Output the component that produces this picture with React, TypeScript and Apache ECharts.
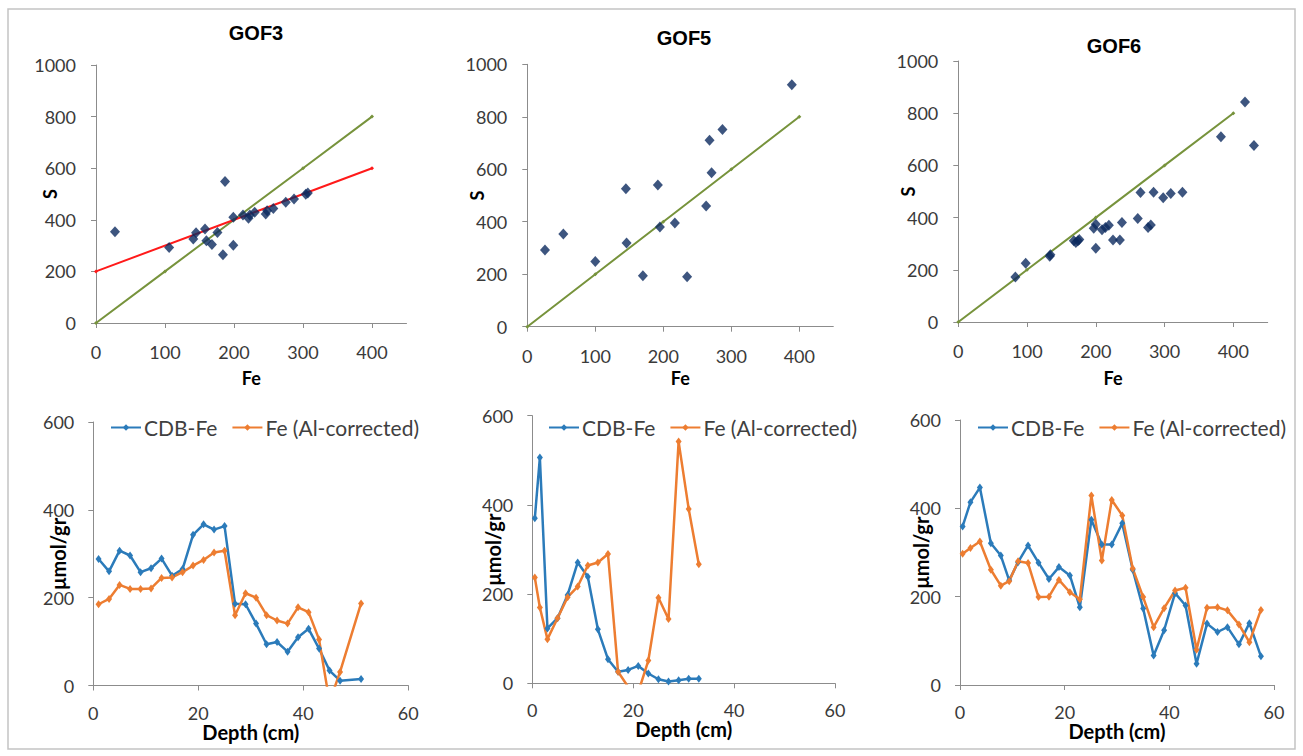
import React, { useEffect, useRef } from "react";
import * as echarts from "echarts";

// ---------- DATA ----------
const gof3Fe = [27.5, 106, 187, 141, 145, 158, 160, 168, 176, 184, 199, 199, 213, 221, 223, 230, 246, 248, 257, 275, 287, 304, 307];
const gof3S = [354, 293, 548, 326, 350, 364, 319, 304, 351, 265, 301, 410, 419, 406, 419, 429, 422, 435, 444, 468, 481, 499, 504];

const gof5Fe = [26, 53, 100, 145, 146, 170, 192, 195, 217, 235, 263, 268, 271, 287, 389];
const gof5S = [292, 353, 248, 526, 319, 194, 540, 380, 395, 190, 460, 711, 587, 752, 922];

const gof6Fe = [83, 98, 133, 134, 168, 171, 174, 176, 197, 200, 200, 209, 214, 219, 225, 235, 238, 261, 265, 276, 280, 284, 298, 309, 326, 382, 417, 430];
const gof6S = [172, 225, 252, 258, 311, 305, 311, 316, 359, 375, 283, 353, 362, 371, 314, 314, 381, 397, 496, 362, 372, 497, 476, 492, 497, 710, 843, 676];

// reference lines
const oneToOneFe = [0, 100, 200, 300, 400];
const oneToOneS = [0, 200, 400, 600, 800];
const gof3FitFe = [0, 400];
const gof3FitS = [200, 600];

const gof3Depth = [1, 3, 5, 7, 9, 11, 13, 15, 17, 19, 21, 23, 25, 27, 29, 31, 33, 35, 37, 39, 41, 43, 45, 47, 51];
const gof3Cdb = [288, 260, 307, 296, 258, 267, 289, 250, 265, 343, 367, 355, 363, 186, 185, 141, 94, 99, 77, 110, 129, 84, 34, 11, 15];
const gof3AlCorr = [185, 197, 229, 220, 220, 221, 245, 246, 258, 273, 286, 303, 307, 160, 210, 200, 160, 148, 141, 178, 167, 105, -38, 31, 187];

const gof5Depth = [0.5, 1.5, 3, 5, 7, 9, 11, 13, 15, 17, 19, 21, 23, 25, 27, 29, 31, 33];
const gof5Cdb = [370, 506, 123, 146, 198, 271, 239, 121, 54, 26, 30, 39, 22, 9, 4, 7, 10, 10];
const gof5AlCorr = [237, 170, 99, 146, 193, 217, 264, 271, 290, 26, -8, -20, 51, 192, 144, 542, 391, 267];

const gof6Depth = [0.5, 2, 3.8, 5.9, 7.8, 9.4, 11.1, 13, 15, 17, 18.9, 21, 22.9, 25.1, 27.1, 29, 31, 33, 35, 37, 39, 41.1, 43.1, 45.2, 47.2, 49.2, 51.1, 53.3, 55.3, 57.5];
const gof6Cdb = [359, 414, 447, 321, 293, 237, 278, 316, 277, 240, 267, 248, 176, 374, 318, 318, 366, 261, 173, 67, 124, 208, 180, 48, 139, 120, 131, 92, 140, 65];
const gof6AlCorr = [297, 310, 325, 261, 225, 235, 280, 276, 199, 200, 238, 210, 194, 429, 282, 419, 384, 264, 199, 131, 174, 214, 220, 80, 175, 176, 169, 137, 97, 170];

const scatterTicks = [0, 100, 200, 300, 400];
const legendNames = ["CDB-Fe", "Fe (Al-corrected)"];
const titles = ["GOF3", "GOF5", "GOF6"];

// ---------- STYLE ----------
const FONT = "Lato";
const AXIS_COLOR = "#8c8c8c";
const LABEL_COLOR = "#3a3a3a";
const NAVY = "#0d2b5f";
const GREEN = "#77933c";
const RED = "#ff1a1a";
const BLUE = "#2b7bba";
const ORANGE = "#ed7d31";

const zip = (a: number[], b: number[]) => a.map((v, i) => [v, b[i]]);
const plain = (v: number) => String(v);

function scatterX(name: string, gap: number) {
  return {
    type: "value",
    min: 0,
    max: 450,
    interval: 100,
    axisLine: { show: true, onZero: false, lineStyle: { color: AXIS_COLOR, width: 1 } },
    axisTick: { show: true, length: 5, customValues: scatterTicks, lineStyle: { color: AXIS_COLOR } },
    axisLabel: {
      customValues: scatterTicks,
      margin: 20,
      fontSize: 18,
      fontFamily: FONT,
      color: LABEL_COLOR,
      formatter: (v: number) => (v === 450 ? "" : String(v)),
    },
    splitLine: { show: false },
    name,
    nameLocation: "middle",
    nameGap: gap,
    nameMoveOverlap: false,
    nameTextStyle: { fontSize: 18, fontWeight: "bold", fontFamily: FONT, color: "#000" },
  };
}

function valueY(max: number, interval: number, name: string, gap: number, margin: number, nameSize: number) {
  return {
    type: "value",
    min: 0,
    max,
    interval,
    axisLine: { show: true, lineStyle: { color: AXIS_COLOR, width: 1 } },
    axisTick: { show: true, length: 5, lineStyle: { color: AXIS_COLOR } },
    axisLabel: { margin, fontSize: 18, fontFamily: FONT, color: LABEL_COLOR, formatter: plain },
    splitLine: { show: false },
    name,
    nameLocation: "middle",
    nameGap: gap,
    nameMoveOverlap: false,
    nameTextStyle: { fontSize: nameSize, fontWeight: "bold", fontFamily: FONT, color: "#000" },
  };
}

function depthX(gap: number) {
  return {
    type: "value",
    min: 0,
    max: 60,
    interval: 20,
    axisLine: { show: true, onZero: false, lineStyle: { color: AXIS_COLOR, width: 1 } },
    axisTick: { show: true, length: 5, lineStyle: { color: AXIS_COLOR } },
    axisLabel: { margin: 18, fontSize: 18, fontFamily: FONT, color: LABEL_COLOR, formatter: plain },
    splitLine: { show: false },
    name: "Depth (cm)",
    nameLocation: "middle",
    nameGap: gap,
    nameMoveOverlap: false,
    nameTextStyle: { fontSize: 20, fontWeight: "bold", fontFamily: FONT, color: "#000" },
  };
}

function scatterSeries(idx: number, fe: number[], s: number[], name: string) {
  return {
    type: "scatter",
    name,
    xAxisIndex: idx,
    yAxisIndex: idx,
    data: zip(fe, s),
    symbol: "diamond",
    symbolSize: [10, 11],
    itemStyle: { color: NAVY },
    z: 5,
  };
}

function refLine(idx: number, xs: number[], ys: number[], color: string, name: string) {
  return {
    type: "line",
    name,
    xAxisIndex: idx,
    yAxisIndex: idx,
    data: zip(xs, ys),
    symbol: "diamond",
    symbolSize: 4,
    itemStyle: { color },
    lineStyle: { color, width: 2 },
    z: 3,
  };
}

function depthSeries(idx: number, depth: number[], vals: number[], name: string, color: string) {
  return {
    type: "line",
    name,
    xAxisIndex: idx,
    yAxisIndex: idx,
    data: zip(depth, vals),
    symbol: "diamond",
    symbolSize: [6, 8],
    showSymbol: true,
    clip: true,
    itemStyle: { color },
    lineStyle: { color, width: 2.5 },
  };
}

function legendAt(left: number) {
  return {
    left,
    top: 417,
    padding: 0,
    itemWidth: 30,
    itemHeight: 8,
    itemGap: 14,
    data: legendNames,
    textStyle: { fontSize: 21, fontFamily: FONT, color: "#404040", padding: [0, 0, 0, -2] },
    selectedMode: false,
  };
}

const titleFont = "bold 20px 'Liberation Sans', Arial, sans-serif";

const option = {
  animation: false,
  backgroundColor: "#ffffff",
  grid: [
    { left: 96, top: 65, width: 310.5, height: 258, containLabel: false, outerBoundsMode: "none" },
    { left: 527.3, top: 64.3, width: 306, height: 262.4, containLabel: false, outerBoundsMode: "none" },
    { left: 958.3, top: 61, width: 309.4, height: 261, containLabel: false, outerBoundsMode: "none" },
    { left: 93.3, top: 422, width: 315, height: 263.5, containLabel: false, outerBoundsMode: "none" },
    { left: 532.3, top: 415.7, width: 302.7, height: 267.6, containLabel: false, outerBoundsMode: "none" },
    { left: 960, top: 420, width: 314, height: 265, containLabel: false, outerBoundsMode: "none" },
  ],
  xAxis: [
    { ...scatterX("Fe", 46), gridIndex: 0 },
    { ...scatterX("Fe", 42), gridIndex: 1 },
    { ...scatterX("Fe", 47), gridIndex: 2 },
    { ...depthX(36), gridIndex: 3 },
    { ...depthX(36), gridIndex: 4 },
    { ...depthX(36), gridIndex: 5 },
  ],
  yAxis: [
    { ...valueY(1000, 200, "S", 37, 20, 18), gridIndex: 0 },
    { ...valueY(1000, 200, "S", 41, 20, 18), gridIndex: 1 },
    { ...valueY(1000, 200, "S", 41, 20, 18), gridIndex: 2 },
    { ...valueY(600, 200, "μmol/gr", 25, 19, 20), gridIndex: 3 },
    { ...valueY(600, 200, "μmol/gr", 29, 19, 20), gridIndex: 4 },
    { ...valueY(600, 200, "μmol/gr", 29, 19, 20), gridIndex: 5 },
  ],
  legend: [legendAt(110), legendAt(548), legendAt(977)],
  graphic: [
    {
      type: "rect",
      shape: { x: 8, y: 9, width: 1287, height: 740 },
      style: { fill: "none", stroke: "#c3c3c3", lineWidth: 1.5 },
      silent: true,
      z: -1,
    },
    { type: "text", x: 256, y: 33, style: { text: titles[0], font: titleFont, fill: "#000", align: "center", verticalAlign: "middle" } },
    { type: "text", x: 684, y: 38, style: { text: titles[1], font: titleFont, fill: "#000", align: "center", verticalAlign: "middle" } },
    { type: "text", x: 1114, y: 46, style: { text: titles[2], font: titleFont, fill: "#000", align: "center", verticalAlign: "middle" } },
  ],
  series: [
    refLine(0, oneToOneFe, oneToOneS, GREEN, "1:1"),
    refLine(0, gof3FitFe, gof3FitS, RED, "fit"),
    scatterSeries(0, gof3Fe, gof3S, "GOF3"),
    refLine(1, oneToOneFe, oneToOneS, GREEN, "1:1"),
    scatterSeries(1, gof5Fe, gof5S, "GOF5"),
    refLine(2, oneToOneFe, oneToOneS, GREEN, "1:1"),
    scatterSeries(2, gof6Fe, gof6S, "GOF6"),
    depthSeries(3, gof3Depth, gof3Cdb, legendNames[0], BLUE),
    depthSeries(3, gof3Depth, gof3AlCorr, legendNames[1], ORANGE),
    depthSeries(4, gof5Depth, gof5Cdb, legendNames[0], BLUE),
    depthSeries(4, gof5Depth, gof5AlCorr, legendNames[1], ORANGE),
    depthSeries(5, gof6Depth, gof6Cdb, legendNames[0], BLUE),
    depthSeries(5, gof6Depth, gof6AlCorr, legendNames[1], ORANGE),
  ],
};

export default function App() {
  const ref = useRef<HTMLDivElement>(null);
  useEffect(() => {
    if (!ref.current) return;
    const chart = echarts.init(ref.current, null, { renderer: "svg" });
    chart.setOption(option as any);
    return () => chart.dispose();
  }, []);
  return (
    <div
      ref={ref}
      style={{ position: "absolute", left: 0, top: 0, width: 1303, height: 756, background: "#fff" }}
    />
  );
}
